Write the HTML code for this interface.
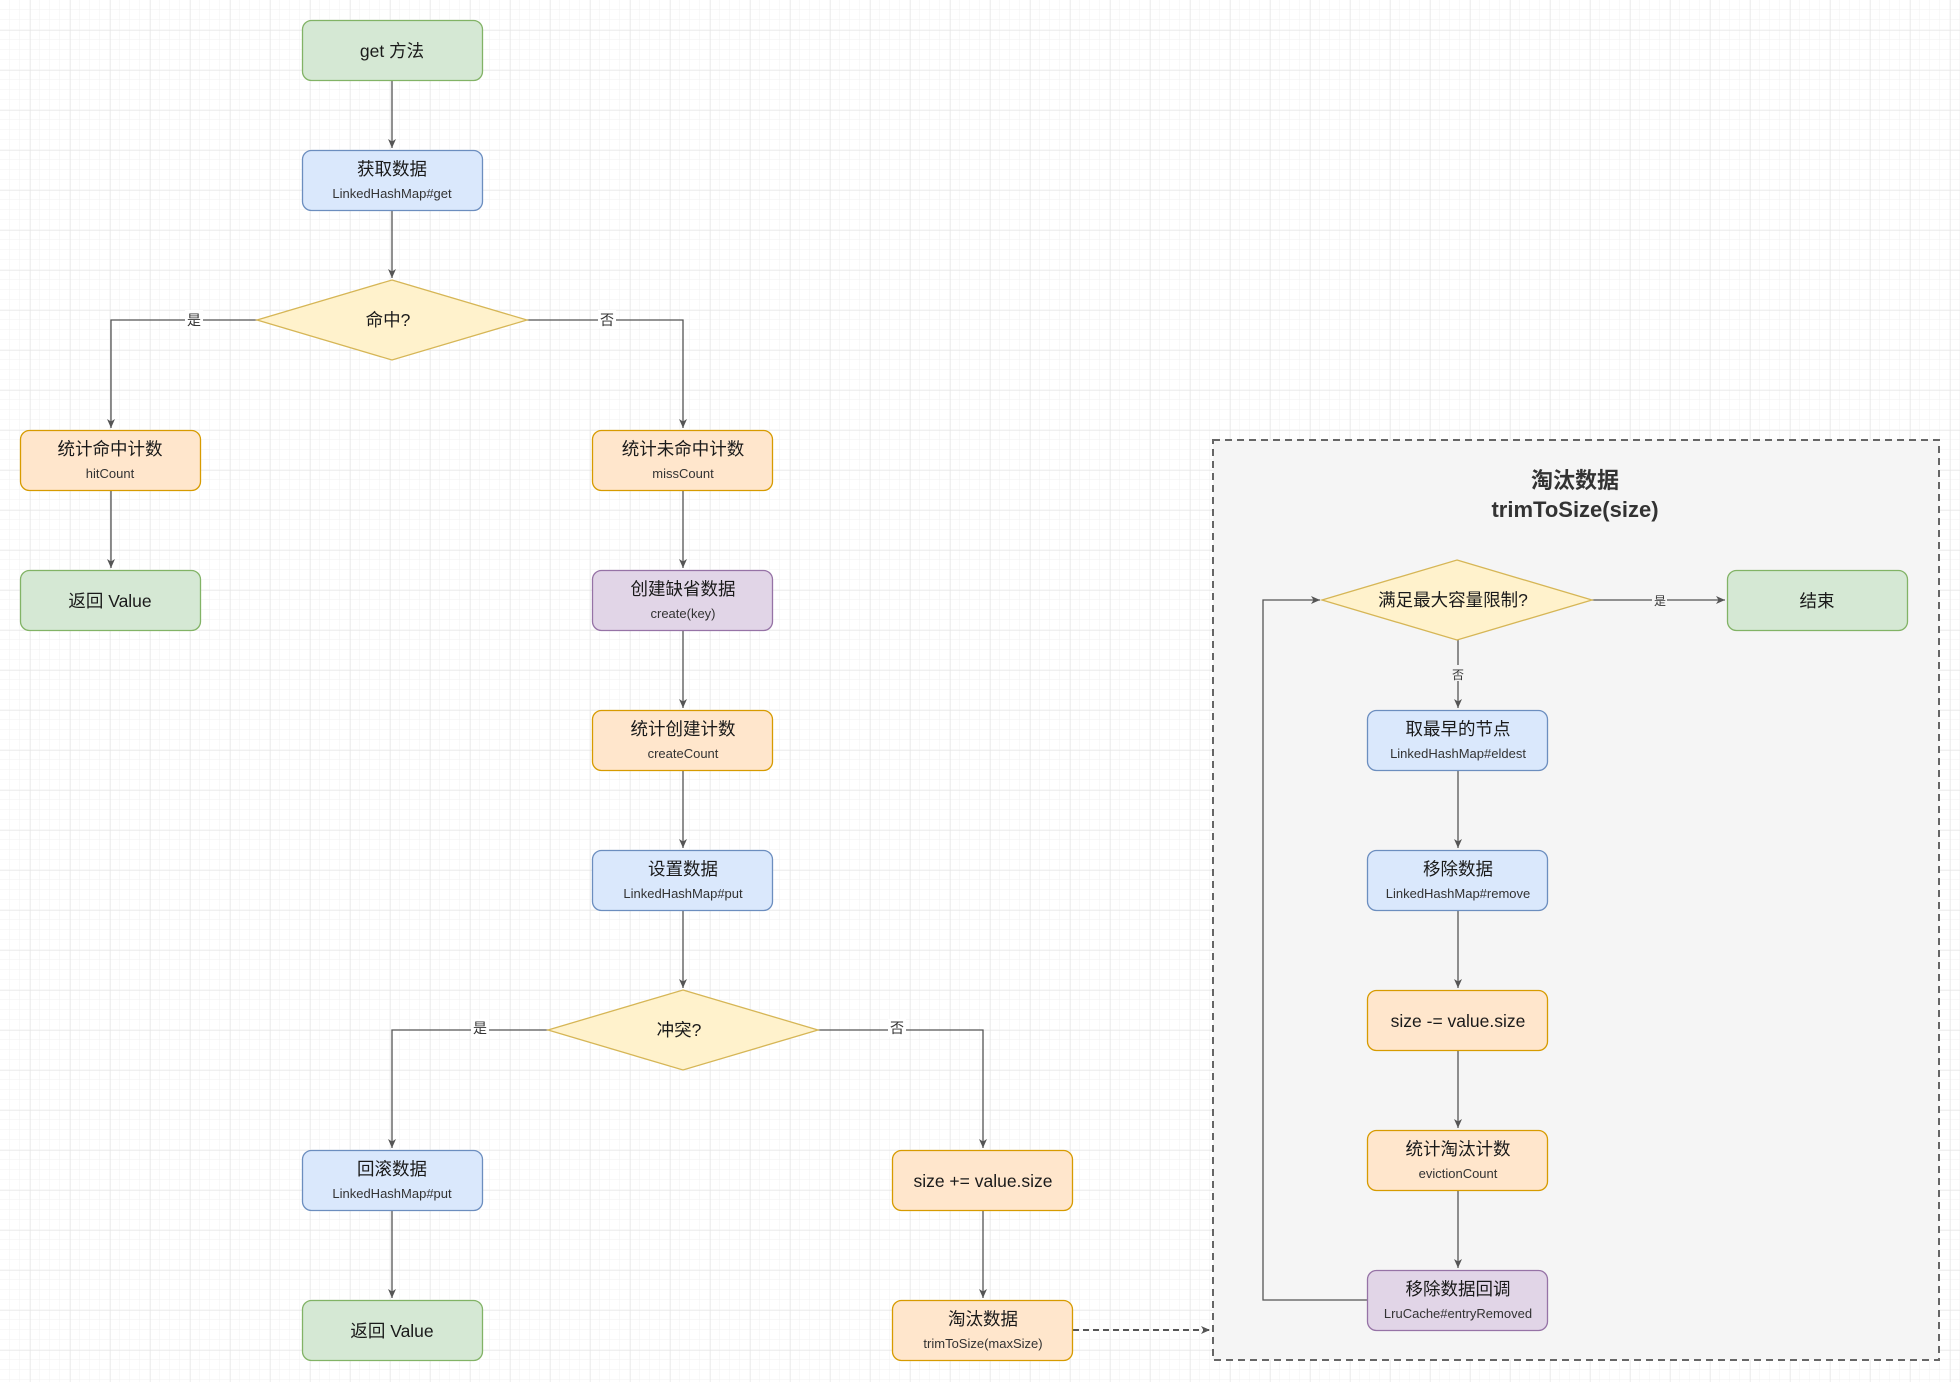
<!DOCTYPE html>
<html><head><meta charset="utf-8"><style>
body{margin:0;background:#fff}
svg{display:block}
text{font-family:"Liberation Sans","Noto Sans CJK SC",sans-serif;fill:#1a1a1a}
.m{font-size:17.5px}
.s{font-size:13px;fill:#333}
.l{font-size:14px;fill:#333}
</style></head><body>
<svg width="1960" height="1382" viewBox="0 0 1960 1382" xmlns="http://www.w3.org/2000/svg">
<defs>
<pattern id="gm" width="10" height="10" patternUnits="userSpaceOnUse" x="0" y="0"><path d="M10 0V10H0" fill="none" stroke="#f2f2f2" stroke-width="1"/></pattern>
<pattern id="gM" width="40" height="40" patternUnits="userSpaceOnUse" x="30" y="30"><path d="M0 0V40M0 0H40" fill="none" stroke="#e2e2e2" stroke-width="1"/></pattern>
<marker id="a" markerWidth="10" markerHeight="10" refX="9" refY="5" orient="auto" markerUnits="userSpaceOnUse"><path d="M0 1L9 5L0 9L2.5 5Z" fill="#555"/></marker>
</defs>
<rect width="1960" height="1382" fill="url(#gm)"/>
<rect width="1960" height="1382" fill="url(#gM)"/>

<!-- container -->
<rect x="1213" y="440" width="726" height="920" fill="#f5f5f5" stroke="#666" stroke-width="2" stroke-dasharray="7,5"/>
<text x="1575" y="488" text-anchor="middle" style="font-size:22px;font-weight:bold;fill:#333">淘汰数据</text>
<text x="1575" y="517" text-anchor="middle" style="font-size:22px;font-weight:bold;fill:#333">trimToSize(size)</text>

<g fill="none" stroke="#555" stroke-width="1.3">
<path d="M392 80V148" marker-end="url(#a)"/>
<path d="M392 210V278" marker-end="url(#a)"/>
<path d="M257 320H111V428" marker-end="url(#a)"/>
<path d="M527 320H683V428" marker-end="url(#a)"/>
<path d="M111 490V568" marker-end="url(#a)"/>
<path d="M683 490V568" marker-end="url(#a)"/>
<path d="M683 630V708" marker-end="url(#a)"/>
<path d="M683 770V848" marker-end="url(#a)"/>
<path d="M683 910V988" marker-end="url(#a)"/>
<path d="M548 1030H392V1148" marker-end="url(#a)"/>
<path d="M818 1030H983V1148" marker-end="url(#a)"/>
<path d="M392 1210V1298" marker-end="url(#a)"/>
<path d="M983 1210V1298" marker-end="url(#a)"/>
<path d="M1073 1330H1210" stroke-dasharray="6,4" stroke-width="2" marker-end="url(#a)"/>
<path d="M1592 600H1725" marker-end="url(#a)"/>
<path d="M1458 640V708" marker-end="url(#a)"/>
<path d="M1458 770V848" marker-end="url(#a)"/>
<path d="M1458 910V988" marker-end="url(#a)"/>
<path d="M1458 1050V1128" marker-end="url(#a)"/>
<path d="M1458 1190V1268" marker-end="url(#a)"/>
<path d="M1367 1300H1263V600H1320" marker-end="url(#a)"/>
</g>

<!-- edge labels -->
<g>
<rect x="185" y="310" width="18" height="18" fill="#fff"/><text x="194" y="325" text-anchor="middle" class="l">是</text>
<rect x="598" y="310" width="18" height="18" fill="#fff"/><text x="607" y="325" text-anchor="middle" class="l">否</text>
<rect x="471" y="1019" width="18" height="18" fill="#fff"/><text x="480" y="1033" text-anchor="middle" class="l">是</text>
<rect x="888" y="1019" width="18" height="18" fill="#fff"/><text x="897" y="1033" text-anchor="middle" class="l">否</text>
<rect x="1451" y="665" width="15" height="16" fill="#f5f5f5"/><text x="1458" y="679" text-anchor="middle" style="font-size:12px;fill:#333">否</text>
<rect x="1652" y="592" width="15" height="16" fill="#f5f5f5"/><text x="1660" y="605" text-anchor="middle" style="font-size:12px;fill:#333">是</text>
</g>

<!-- green -->
<g fill="#d5e8d4" stroke="#82b366" stroke-width="1.3">
<rect x="302.5" y="20.5" width="180" height="60" rx="9"/>
<rect x="20.5" y="570.5" width="180" height="60" rx="9"/>
<rect x="302.5" y="1300.5" width="180" height="60" rx="9"/>
<rect x="1727.5" y="570.5" width="180" height="60" rx="9"/>
</g>
<!-- blue -->
<g fill="#dae8fc" stroke="#6c8ebf" stroke-width="1.3">
<rect x="302.5" y="150.5" width="180" height="60" rx="9"/>
<rect x="592.5" y="850.5" width="180" height="60" rx="9"/>
<rect x="302.5" y="1150.5" width="180" height="60" rx="9"/>
<rect x="1367.5" y="710.5" width="180" height="60" rx="9"/>
<rect x="1367.5" y="850.5" width="180" height="60" rx="9"/>
</g>
<!-- orange -->
<g fill="#ffe6cc" stroke="#d79b00" stroke-width="1.3">
<rect x="20.5" y="430.5" width="180" height="60" rx="9"/>
<rect x="592.5" y="430.5" width="180" height="60" rx="9"/>
<rect x="592.5" y="710.5" width="180" height="60" rx="9"/>
<rect x="892.5" y="1150.5" width="180" height="60" rx="9"/>
<rect x="892.5" y="1300.5" width="180" height="60" rx="9"/>
<rect x="1367.5" y="990.5" width="180" height="60" rx="9"/>
<rect x="1367.5" y="1130.5" width="180" height="60" rx="9"/>
</g>
<!-- purple -->
<g fill="#e1d5e7" stroke="#9673a6" stroke-width="1.3">
<rect x="592.5" y="570.5" width="180" height="60" rx="9"/>
<rect x="1367.5" y="1270.5" width="180" height="60" rx="9"/>
</g>
<!-- diamonds -->
<g fill="#fff2cc" stroke="#d6b656" stroke-width="1.3">
<path d="M392 280L527 320L392 360L257 320Z"/>
<path d="M683 990L818 1030L683 1070L548 1030Z"/>
<path d="M1457 560L1592 600L1457 640L1322 600Z"/>
</g>

<g text-anchor="middle">
<text x="392" y="57" class="m">get 方法</text>
<text x="392" y="175" class="m">获取数据</text><text x="392" y="198" class="s">LinkedHashMap#get</text>
<text x="388" y="326" class="m">命中?</text>
<text x="110" y="455" class="m">统计命中计数</text><text x="110" y="478" class="s">hitCount</text>
<text x="110" y="607" class="m">返回 Value</text>
<text x="683" y="455" class="m">统计未命中计数</text><text x="683" y="478" class="s">missCount</text>
<text x="683" y="595" class="m">创建缺省数据</text><text x="683" y="618" class="s">create(key)</text>
<text x="683" y="735" class="m">统计创建计数</text><text x="683" y="758" class="s">createCount</text>
<text x="683" y="875" class="m">设置数据</text><text x="683" y="898" class="s">LinkedHashMap#put</text>
<text x="679" y="1036" class="m">冲突?</text>
<text x="392" y="1175" class="m">回滚数据</text><text x="392" y="1198" class="s">LinkedHashMap#put</text>
<text x="392" y="1337" class="m">返回 Value</text>
<text x="983" y="1187" class="m">size += value.size</text>
<text x="983" y="1325" class="m">淘汰数据</text><text x="983" y="1348" class="s">trimToSize(maxSize)</text>
<text x="1453" y="606" class="m">满足最大容量限制?</text>
<text x="1817" y="607" class="m">结束</text>
<text x="1458" y="735" class="m">取最早的节点</text><text x="1458" y="758" class="s">LinkedHashMap#eldest</text>
<text x="1458" y="875" class="m">移除数据</text><text x="1458" y="898" class="s">LinkedHashMap#remove</text>
<text x="1458" y="1027" class="m">size -= value.size</text>
<text x="1458" y="1155" class="m">统计淘汰计数</text><text x="1458" y="1178" class="s">evictionCount</text>
<text x="1458" y="1295" class="m">移除数据回调</text><text x="1458" y="1318" class="s">LruCache#entryRemoved</text>
</g>
</svg>
</body></html>
